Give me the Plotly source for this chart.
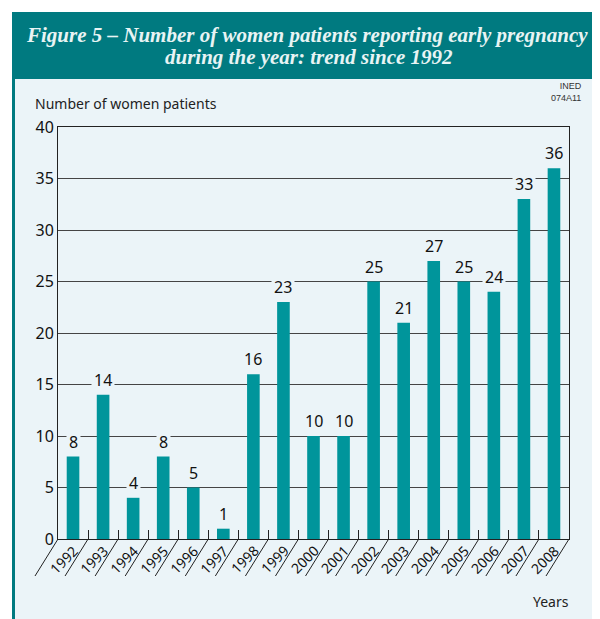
import plotly.graph_objects as go

years = ["1992", "1993", "1994", "1995", "1996", "1997", "1998", "1999", "2000",
         "2001", "2002", "2003", "2004", "2005", "2006", "2007", "2008"]
patients = [8, 14, 4, 8, 5, 1, 16, 23, 10, 10, 25, 21, 27, 25, 24, 33, 36]
y_ticks = [0, 5, 10, 15, 20, 25, 30, 35, 40]

# page body has an 8px margin: figure is shifted by OFF from the window origin
OFF = 8
W, H = 600 - OFF, 619 - OFF
L, R, T, B = 50, 31, 119, 80
PW, PH = W - L - R, H - T - B

def px(x):  # reference window pixel -> paper
    return (x - OFF - L) / PW

def py(y):
    return (H - B - (y - OFF)) / PH

HEADER = "#007A80"
BAR = "#00959B"
PANEL = "#EBF4F8"
FONT = "Noto Sans"

fig = go.Figure()
fig.add_trace(go.Bar(x=years, y=patients, marker=dict(color=BAR, line=dict(width=0)),
                     width=0.42, hoverinfo="skip"))

shapes = [
    dict(type="rect", xref="paper", yref="paper", x0=px(12), x1=px(598), y0=py(640), y1=py(12),
         fillcolor=HEADER, line=dict(width=0), layer="below"),
    dict(type="rect", xref="paper", yref="paper", x0=px(15), x1=px(595), y0=py(640), y1=py(79),
         fillcolor=PANEL, line=dict(width=0), layer="below"),
]
# slanted separators under the category axis
n = len(years)
dx = 23 / (PW / n)
for i in range(n + 1):
    b = i / n
    shapes.append(dict(type="line", xref="paper", yref="paper", x0=b, y0=0,
                       x1=b - dx / n, y1=-37 / PH, line=dict(color="#222", width=1)))

annotations = [
    dict(text="<b><i>Figure 5 – Number of women patients reporting early pregnancy</i></b>",
         xref="paper", yref="paper", x=px(307), y=py(35), xanchor="center", yanchor="middle",
         showarrow=False, font=dict(family="Liberation Serif", size=21, color="#E8F4F4")),
    dict(text="<b><i>during the year: trend since 1992</i></b>",
         xref="paper", yref="paper", x=px(309), y=py(57), xanchor="center", yanchor="middle",
         showarrow=False, font=dict(family="Liberation Serif", size=21, color="#E8F4F4")),
    dict(text="Number of women patients", xref="paper", yref="paper", x=px(33), y=py(104),
         xanchor="left", yanchor="middle", showarrow=False,
         font=dict(family=FONT, size=14, color="#222")),
    dict(text="INED<br>074A11", xref="paper", yref="paper", x=px(584), y=py(92),
         xanchor="right", yanchor="middle", align="right", showarrow=False,
         font=dict(family="Liberation Sans Narrow, Liberation Sans", size=9, color="#333")),
    dict(text="Years", xref="paper", yref="paper", x=px(571), y=py(601),
         xanchor="right", yanchor="middle", showarrow=False,
         font=dict(family=FONT, size=14, color="#222")),
]
for i, (yr, v) in enumerate(zip(years, patients)):
    annotations.append(dict(text=str(v), x=i, y=v, xref="x", yref="y", yanchor="bottom",
                            yshift=1, showarrow=False, bgcolor=PANEL, borderpad=2,
                            font=dict(family=FONT, size=16, color="#111")))
    annotations.append(dict(text=yr, x=i, y=py(539), xref="x", yref="paper",
                            xanchor="right", yanchor="top", xshift=12, textangle=-45,
                            showarrow=False, font=dict(family=FONT, size=14, color="#111")))

fig.update_layout(
    width=W, height=H, margin=dict(l=L, r=R, t=T, b=B, autoexpand=False),
    paper_bgcolor="white", plot_bgcolor=PANEL,
    showlegend=False, bargap=0.58,
    shapes=shapes, annotations=annotations,
    xaxis=dict(type="category", categoryorder="array", categoryarray=years,
               range=[-0.5, n - 0.5], autorange=False,
               showline=True, linecolor="#222", linewidth=1, mirror=True,
               ticks="inside", tickson="boundaries", ticklen=9, tickcolor="#222",
               showticklabels=False, showgrid=False, fixedrange=True),
    yaxis=dict(range=[0, 40], tickvals=y_ticks, showgrid=True, gridcolor="#444", gridwidth=1,
               showline=True, linecolor="#222", mirror=True, ticks="", zeroline=False,
               tickfont=dict(family=FONT, size=16, color="#111"), fixedrange=True),
)

fig.write_html("out.html")
